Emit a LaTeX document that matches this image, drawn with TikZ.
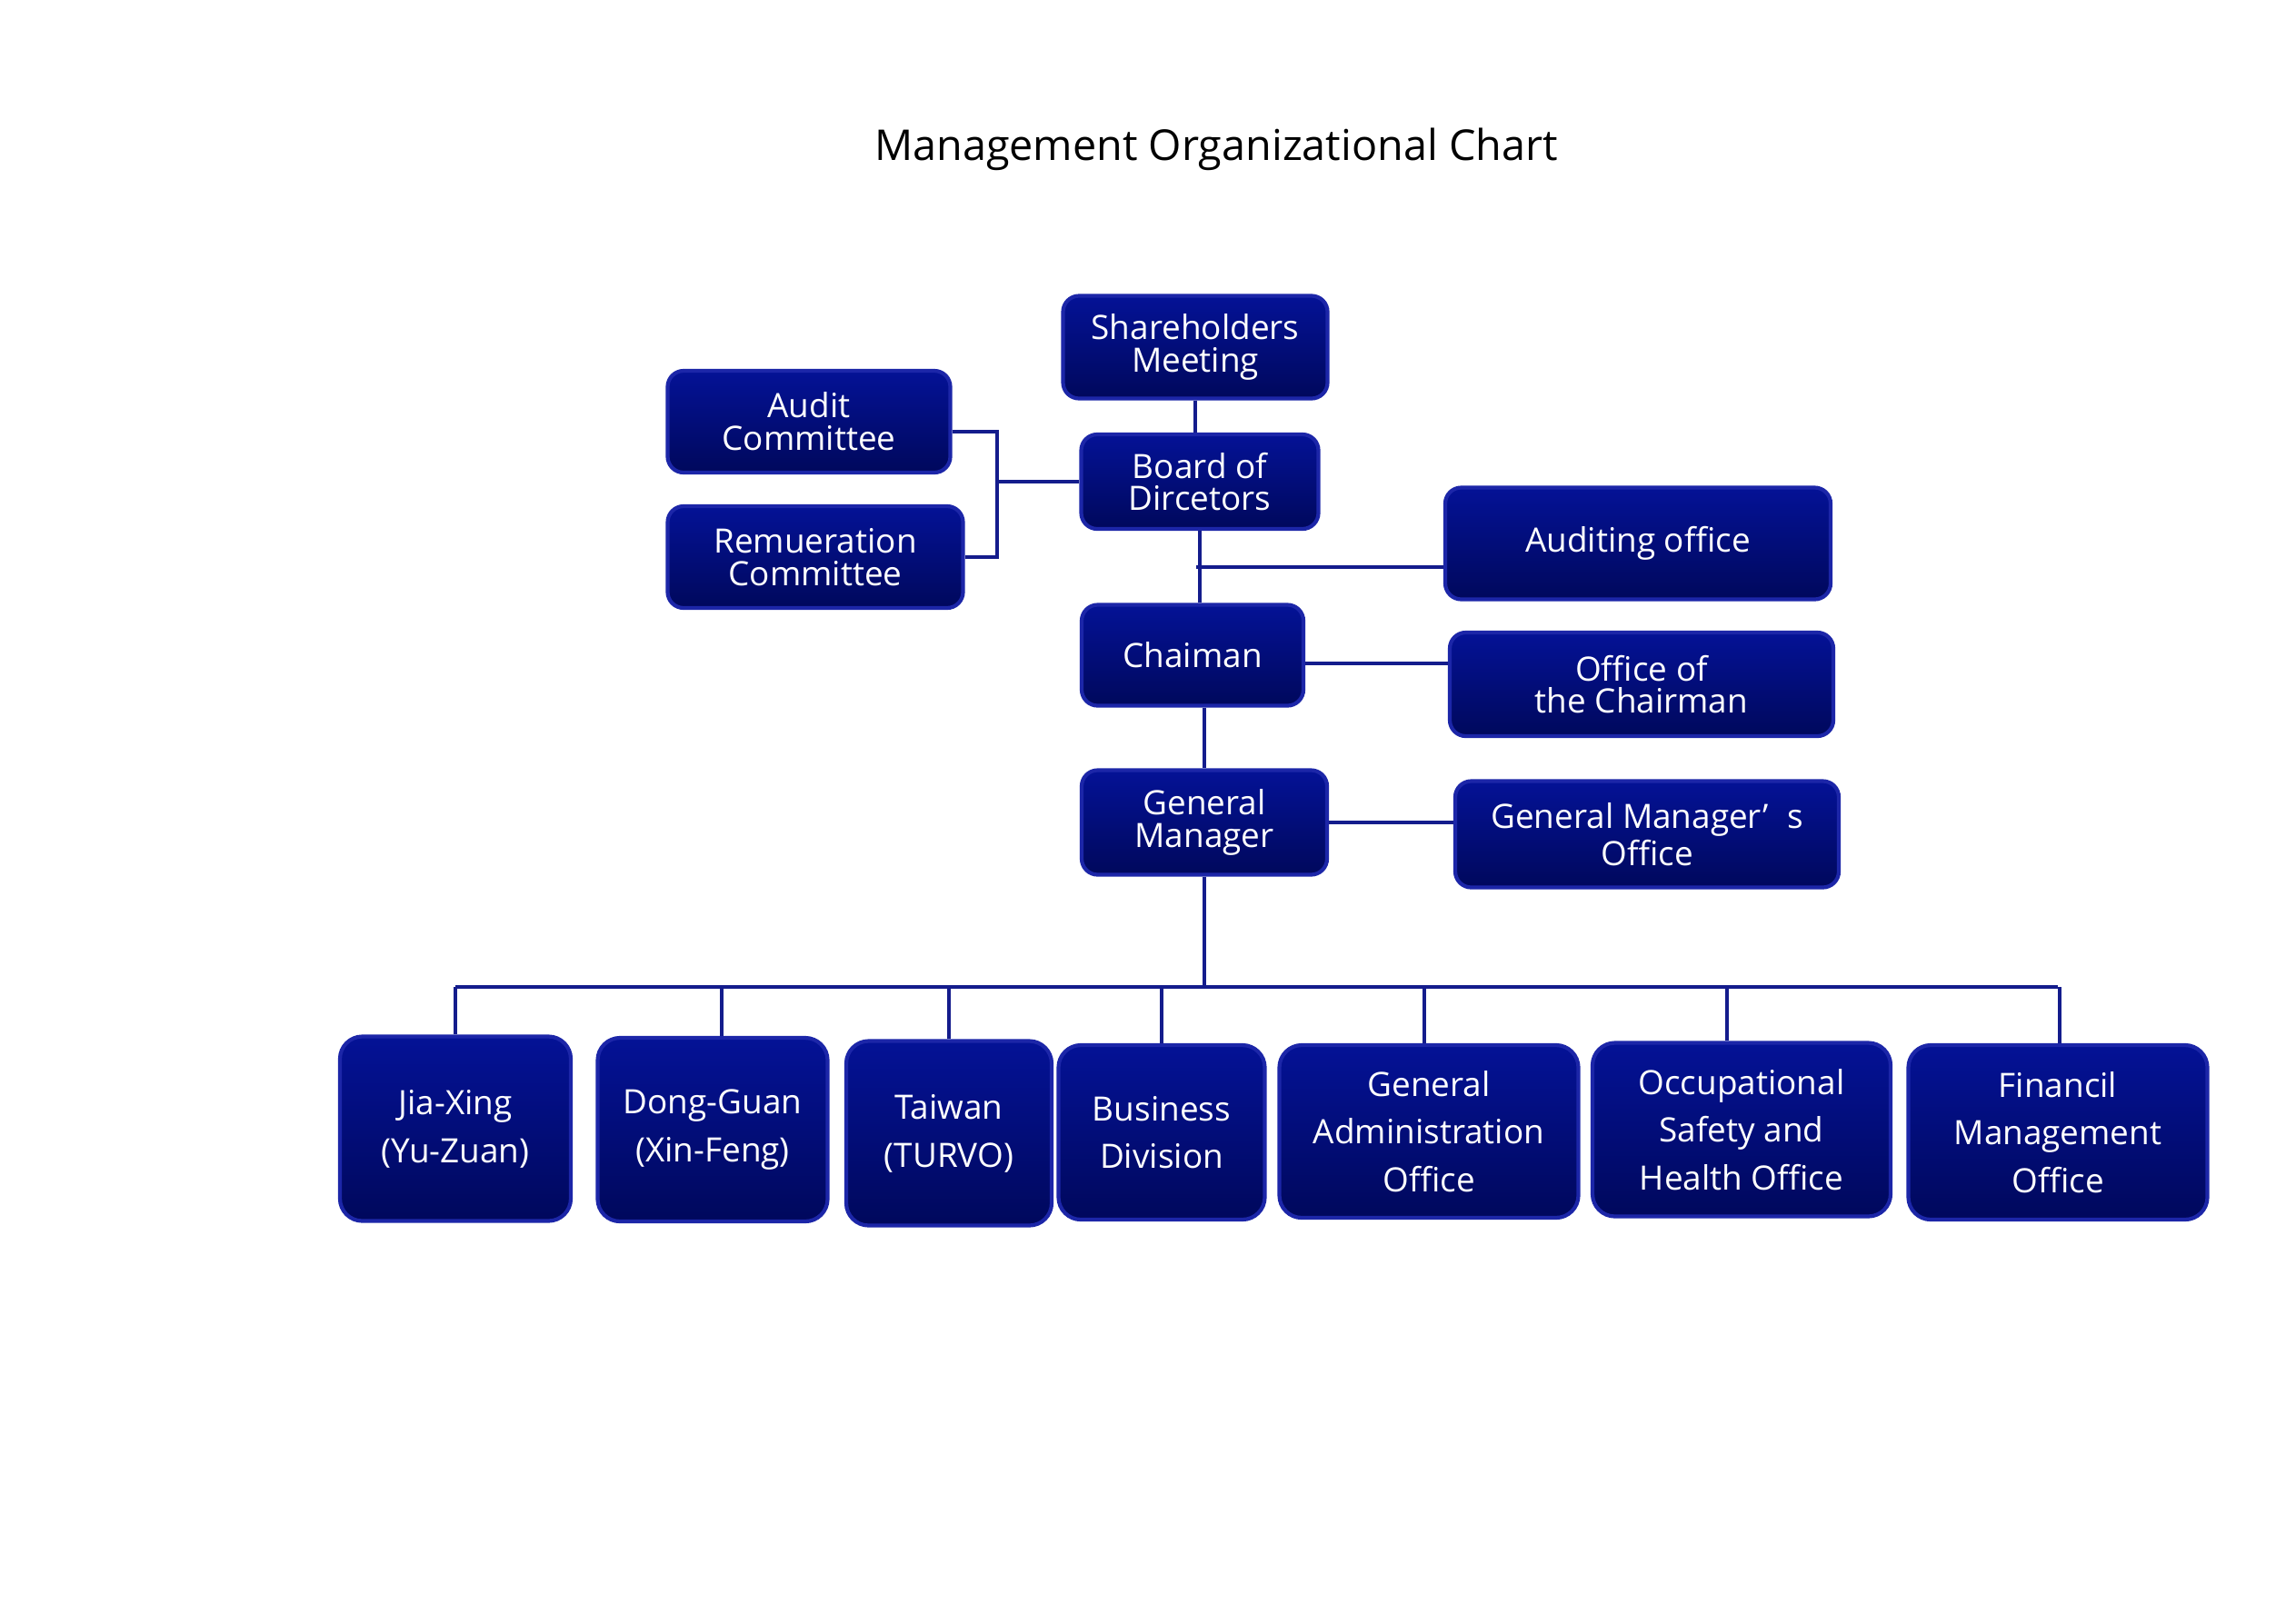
\documentclass[tikz,border=0pt]{standalone}
\usepackage{fontspec}
\setmainfont{Open Sans}
\usepackage{tikz}
\usetikzlibrary{positioning, calc}
\usepackage{xcolor}
\definecolor{boxtop}{RGB}{4,18,150}
\definecolor{boxbot}{RGB}{0,8,92}
\definecolor{boxedge}{RGB}{28,38,168}
\definecolor{linkcolor}{RGB}{20,28,140}

\begin{document}
\begin{tikzpicture}[
    box/.style={rectangle, draw=boxedge, line width=1.2pt, rounded corners=5pt, top color=boxtop, bottom color=boxbot, text=white, align=center, inner sep=2pt, font=\fontsize{10.5}{10.2}\selectfont},
    unitbox/.style={box, rounded corners=7pt, font=\fontsize{10.5}{15}\selectfont},
    link/.style={draw=linkcolor, line width=1pt}
]
\useasboundingbox (0,0) rectangle (25.26,-17.86);

\node[font=\fontsize{13.3}{16}\selectfont] (title) at (13.38,-1.64) {Management Organizational Chart};

% upper part
\node[box, minimum width=2.91cm, minimum height=1.13cm] (share) at (13.15,-3.82) {Shareholders\\Meeting};
\node[box, minimum width=2.61cm, minimum height=1.04cm] (board) at (13.20,-5.30) {Board of\\Dircetors};
\node[box, minimum width=3.11cm, minimum height=1.12cm] (audit) at (8.90,-4.64) {Audit\\Committee};
\node[box, minimum width=3.25cm, minimum height=1.12cm] (remu) at (8.97,-6.13) {Remueration\\Committee};
\node[box, minimum width=4.24cm, minimum height=1.23cm] (audoff) at (18.02,-5.98) {Auditing office};
\node[box, minimum width=2.44cm, minimum height=1.11cm] (chair) at (13.12,-7.21) {Chaiman};
\node[box, minimum width=4.22cm, minimum height=1.14cm] (chairoff) at (18.06,-7.53) {Office of\\the Chairman};
\node[box, minimum width=2.70cm, minimum height=1.15cm] (gm) at (13.25,-9.05) {General\\Manager};
\node[box, minimum width=4.22cm, minimum height=1.17cm] (gmoff) at (18.12,-9.18) {General Manager’\hspace{0.55em}s\\Office};

% lower row
\node[unitbox, minimum width=2.54cm, minimum height=2.03cm] (jx) at (5.01,-12.42) {Jia-Xing\\(Yu-Zuan)};
\node[unitbox, minimum width=2.53cm, minimum height=2.02cm] (dg) at (7.84,-12.43) {Dong-Guan\\(Xin-Feng)};
\node[unitbox, minimum width=2.26cm, minimum height=2.03cm] (tw) at (10.44,-12.47) {Taiwan\\(TURVO)};
\node[unitbox, minimum width=2.27cm, minimum height=1.92cm] (bd) at (12.78,-12.46) {Business\\Division};
\node[unitbox, minimum width=3.29cm, minimum height=1.90cm] (ga) at (15.72,-12.45) {General\\Administration\\Office};
\node[unitbox, minimum width=3.28cm, minimum height=1.91cm] (os) at (19.16,-12.43) {Occupational\\Safety and\\Health Office};
\node[unitbox, minimum width=3.29cm, minimum height=1.92cm] (fm) at (22.64,-12.46) {Financil\\Management\\Office};

\coordinate (brk) at (10.97,-5.30);
\coordinate (audbr) at ($(board.south)!0.5!(chair.north)$);
\coordinate (bus) at (13.29,-10.86);

\draw[link] (share.south) -- (share.south |- board.north);
\draw[link] ([yshift=-0.11cm]audit.east) -| (brk |- remu.east) -- (remu.east);
\draw[link] (board.west -| brk) -- (board.west);
\draw[link] (board.south) -- (board.south |- chair.north);
\draw[link] (audbr) -- (audbr -| audoff.west);
\draw[link] ([yshift=-0.09cm]chair.east) -- ([yshift=-0.09cm]chair.east -| chairoff.west);
\draw[link] (chair.south -| gm.north) -- (gm.north);
\draw[link] (gm.east) -- (gm.east -| gmoff.west);
\draw[link] (gm.south) -- (gm.south |- bus);
\draw[link] (jx.north |- bus) -- (fm.north |- bus);
\foreach \n/\dx in {jx/0, dg/0.1, tw/0, bd/0, ga/-0.05, os/-0.16, fm/0.02}
    \draw[link] ([xshift=\dx cm]\n.north |- bus) -- ([xshift=\dx cm]\n.north);
\end{tikzpicture}
\end{document}
